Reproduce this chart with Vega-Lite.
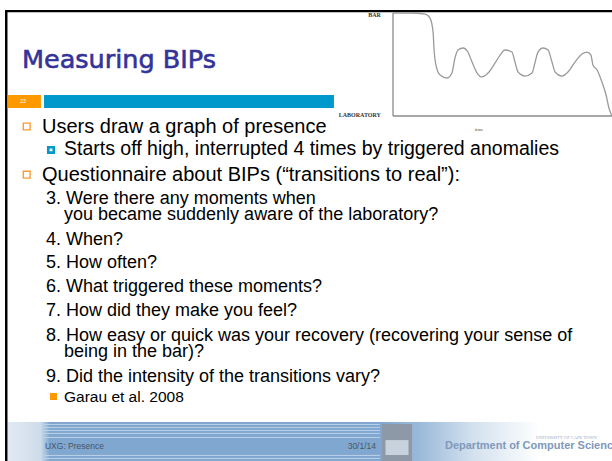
{
  "$schema": "https://vega.github.io/schema/vega-lite/v6.json",
  "width": 612,
  "height": 461,
  "padding": 0,
  "autosize": {"type": "none"},
  "background": "white",
  "config": {"view": {"stroke": null}},
  "datasets": {
    "page": [
      {"part": "footer", "x": 8.8, "x2": 720, "y": 494.3, "y2": 540},
      {"part": "frame", "x": 5.9, "x2": 720, "y": 11.7, "y2": 14.3},
      {"part": "frame", "x": 5.9, "x2": 8.8, "y": 11.7, "y2": 540},
      {"part": "tag", "x": 8.8, "x2": 48.2, "y": 111.3, "y2": 126.5},
      {"part": "bar", "x": 51.8, "x2": 392.9, "y": 111.3, "y2": 126.5},
      {"part": "crest", "x": 449.4, "x2": 484.7, "y": 496.7, "y2": 540},
      {"part": "crestlight", "x": 453.5, "x2": 480.6, "y": 515.5, "y2": 533}
    ],
    "stripes": [
      {"x": 52, "x2": 447, "y": 497.2},
      {"x": 52, "x2": 447, "y": 500.7},
      {"x": 52, "x2": 447, "y": 504.2},
      {"x": 52, "x2": 447, "y": 507.7},
      {"x": 52, "x2": 447, "y": 512.4},
      {"x": 52, "x2": 447, "y": 533.5},
      {"x": 52, "x2": 447, "y": 537}
    ],
    "labels": [
      {"part": "title", "x": 25.9, "y": 79.7, "text": "Measuring BIPs"},
      {"part": "num", "x": 27, "y": 120.5, "text": "23"},
      {"part": "foot", "x": 52.9, "y": 526, "text": "UXG: Presence"},
      {"part": "date", "x": 442.4, "y": 526, "text": "30/1/14"},
      {"part": "dept", "x": 523.5, "y": 526, "text": "Department of Computer Science"},
      {"part": "uct", "x": 630.6, "y": 514.2, "text": "UNIVERSITY OF CAPE TOWN"}
    ],
    "curve": [
      {"t": 0, "p": 100}, {"t": 7.8, "p": 100}, {"t": 14.6, "p": 99}, {"t": 16.9, "p": 95.1},
      {"t": 18.3, "p": 81.6}, {"t": 18.7, "p": 66}, {"t": 19.6, "p": 49.5}, {"t": 21.5, "p": 39.8},
      {"t": 24.7, "p": 36.9}, {"t": 26.9, "p": 41.7}, {"t": 28.3, "p": 56.3}, {"t": 29.7, "p": 64.1},
      {"t": 32, "p": 66}, {"t": 34.2, "p": 62.1}, {"t": 36.1, "p": 52.4}, {"t": 38.4, "p": 41.7},
      {"t": 40.6, "p": 37.9}, {"t": 43.4, "p": 41.7}, {"t": 46.6, "p": 51.5}, {"t": 48.9, "p": 59.2},
      {"t": 51.1, "p": 64.1}, {"t": 54.3, "p": 62.1}, {"t": 55.7, "p": 52.4}, {"t": 57.1, "p": 42.7},
      {"t": 60.3, "p": 38.8}, {"t": 63.5, "p": 41.7}, {"t": 64.8, "p": 51.5}, {"t": 66.2, "p": 62.1},
      {"t": 68.5, "p": 66}, {"t": 70.8, "p": 64.1}, {"t": 72.6, "p": 52.4}, {"t": 74, "p": 42.7},
      {"t": 77.2, "p": 38.8}, {"t": 79.9, "p": 42.7}, {"t": 83.1, "p": 52.4}, {"t": 86.3, "p": 60.2},
      {"t": 88.6, "p": 62.1}, {"t": 90.4, "p": 59.2}, {"t": 91.3, "p": 49.5}, {"t": 93.2, "p": 44.7},
      {"t": 95.4, "p": 33}, {"t": 97.3, "p": 20.4}, {"t": 98.6, "p": 7.8}, {"t": 100, "p": 0}
    ],
    "insetAxes": [
      {"t": 0, "t2": 0, "p": 0, "p2": 100},
      {"t": 0, "t2": 100, "p": 0, "p2": 0}
    ],
    "insetLabels": [
      {"kind": "side", "t": -5.5, "p": 98, "text": "BAR"},
      {"kind": "side", "t": -5.5, "p": 1, "text": "LABORATORY"},
      {"kind": "time", "t": 39.3, "p": -13, "text": "time"}
    ],
    "body": [
      {"row": 0, "level": "main", "indent": 0, "text": "Users draw a graph of presence"},
      {"row": 1, "level": "sub", "indent": 1, "text": "Starts off high, interrupted 4 times by triggered anomalies"},
      {"row": 2.15, "level": "main", "indent": 0, "text": "Questionnaire about BIPs (“transitions to real”):"},
      {"row": 3.15, "level": "q", "indent": 0.18, "text": "3. Were there any moments when"},
      {"row": 3.9, "level": "q", "indent": 1, "text": "you became suddenly aware of the laboratory?"},
      {"row": 5, "level": "q", "indent": 0.18, "text": "4. When?"},
      {"row": 6, "level": "q", "indent": 0.18, "text": "5. How often?"},
      {"row": 7.1, "level": "q", "indent": 0.18, "text": "6. What triggered these moments?"},
      {"row": 8.15, "level": "q", "indent": 0.18, "text": "7. How did they make you feel?"},
      {"row": 9.3, "level": "q", "indent": 0.18, "text": "8. How easy or quick was your recovery (recovering your sense of"},
      {"row": 10, "level": "q", "indent": 1, "text": "being in the bar)?"},
      {"row": 11.1, "level": "q", "indent": 0.18, "text": "9. Did the intensity of the transitions vary?"},
      {"row": 12, "level": "ref", "indent": 1, "text": "Garau et al. 2008"}
    ]
  },
  "layer": [
    {
      "layer": [
        {
          "data": {"name": "page"},
          "transform": [{"filter": "datum.part === 'footer'"}],
          "mark": {"type": "rect", "color": {"gradient": "linear", "x1": 0, "x2": 1, "y1": 0, "y2": 0, "stops": [
            {"offset": 0, "color": "#e2eaf3"},
            {"offset": 0.055, "color": "#cddcea"},
            {"offset": 0.07, "color": "#80a7d0"},
            {"offset": 0.615, "color": "#80a7d0"},
            {"offset": 0.68, "color": "#9ab9da"},
            {"offset": 0.77, "color": "#d3e1ee"},
            {"offset": 0.88, "color": "#ffffff"},
            {"offset": 1, "color": "#ffffff"}
          ]}},
          "encoding": {
            "x": {"field": "x", "type": "quantitative", "scale": {"domain": [0, 720], "range": [0, 612], "nice": false, "zero": false}, "axis": null},
            "x2": {"field": "x2"},
            "y": {"field": "y", "type": "quantitative", "scale": {"domain": [0, 540], "range": [0, 461], "nice": false, "zero": false}, "axis": null},
            "y2": {"field": "y2"}
          }
        },
        {
          "data": {"name": "stripes"},
          "mark": {"type": "rule", "color": "#c4d8ec", "strokeWidth": 1, "opacity": 0.85},
          "encoding": {
            "x": {"field": "x", "type": "quantitative", "scale": {"domain": [0, 720], "range": [0, 612], "nice": false, "zero": false}, "axis": null},
            "x2": {"field": "x2"},
            "y": {"field": "y", "type": "quantitative", "scale": {"domain": [0, 540], "range": [0, 461], "nice": false, "zero": false}, "axis": null}
          }
        },
        {
          "data": {"name": "page"},
          "transform": [{"filter": "datum.part === 'frame'"}],
          "mark": {"type": "rect", "color": "#000000"},
          "encoding": {
            "x": {"field": "x", "type": "quantitative", "scale": {"domain": [0, 720], "range": [0, 612], "nice": false, "zero": false}, "axis": null},
            "x2": {"field": "x2"},
            "y": {"field": "y", "type": "quantitative", "scale": {"domain": [0, 540], "range": [0, 461], "nice": false, "zero": false}, "axis": null},
            "y2": {"field": "y2"}
          }
        },
        {
          "data": {"name": "page"},
          "transform": [{"filter": "datum.part === 'tag'"}],
          "mark": {"type": "rect", "color": "#ff9900"},
          "encoding": {
            "x": {"field": "x", "type": "quantitative", "scale": {"domain": [0, 720], "range": [0, 612], "nice": false, "zero": false}, "axis": null},
            "x2": {"field": "x2"},
            "y": {"field": "y", "type": "quantitative", "scale": {"domain": [0, 540], "range": [0, 461], "nice": false, "zero": false}, "axis": null},
            "y2": {"field": "y2"}
          }
        },
        {
          "data": {"name": "page"},
          "transform": [{"filter": "datum.part === 'bar'"}],
          "mark": {"type": "rect", "color": "#0099cc"},
          "encoding": {
            "x": {"field": "x", "type": "quantitative", "scale": {"domain": [0, 720], "range": [0, 612], "nice": false, "zero": false}, "axis": null},
            "x2": {"field": "x2"},
            "y": {"field": "y", "type": "quantitative", "scale": {"domain": [0, 540], "range": [0, 461], "nice": false, "zero": false}, "axis": null},
            "y2": {"field": "y2"}
          }
        },
        {
          "data": {"name": "page"},
          "transform": [{"filter": "datum.part === 'crest'"}],
          "mark": {"type": "rect", "color": "#8d99a6"},
          "encoding": {
            "x": {"field": "x", "type": "quantitative", "scale": {"domain": [0, 720], "range": [0, 612], "nice": false, "zero": false}, "axis": null},
            "x2": {"field": "x2"},
            "y": {"field": "y", "type": "quantitative", "scale": {"domain": [0, 540], "range": [0, 461], "nice": false, "zero": false}, "axis": null},
            "y2": {"field": "y2"}
          }
        },
        {
          "data": {"name": "page"},
          "transform": [{"filter": "datum.part === 'crestlight'"}],
          "mark": {"type": "rect", "color": "#c8d2dc"},
          "encoding": {
            "x": {"field": "x", "type": "quantitative", "scale": {"domain": [0, 720], "range": [0, 612], "nice": false, "zero": false}, "axis": null},
            "x2": {"field": "x2"},
            "y": {"field": "y", "type": "quantitative", "scale": {"domain": [0, 540], "range": [0, 461], "nice": false, "zero": false}, "axis": null},
            "y2": {"field": "y2"}
          }
        },
        {
          "data": {"name": "labels"},
          "transform": [{"filter": "datum.part === 'title'"}],
          "mark": {"type": "text", "font": "DejaVu Sans", "fontSize": 25.5, "color": "#333399", "stroke": "#333399", "strokeWidth": 0.6, "align": "left", "baseline": "alphabetic"},
          "encoding": {
            "x": {"field": "x", "type": "quantitative", "scale": {"domain": [0, 720], "range": [0, 612], "nice": false, "zero": false}, "axis": null},
            "y": {"field": "y", "type": "quantitative", "scale": {"domain": [0, 540], "range": [0, 461], "nice": false, "zero": false}, "axis": null},
            "text": {"field": "text"}
          }
        },
        {
          "data": {"name": "labels"},
          "transform": [{"filter": "datum.part === 'num'"}],
          "mark": {"type": "text", "font": "Liberation Sans", "fontSize": 5, "color": "#ffffff", "align": "center", "baseline": "alphabetic"},
          "encoding": {
            "x": {"field": "x", "type": "quantitative", "scale": {"domain": [0, 720], "range": [0, 612], "nice": false, "zero": false}, "axis": null},
            "y": {"field": "y", "type": "quantitative", "scale": {"domain": [0, 540], "range": [0, 461], "nice": false, "zero": false}, "axis": null},
            "text": {"field": "text"}
          }
        },
        {
          "data": {"name": "labels"},
          "transform": [{"filter": "datum.part === 'foot'"}],
          "mark": {"type": "text", "font": "Liberation Sans", "fontSize": 8.5, "color": "#4a5664", "align": "left", "baseline": "alphabetic"},
          "encoding": {
            "x": {"field": "x", "type": "quantitative", "scale": {"domain": [0, 720], "range": [0, 612], "nice": false, "zero": false}, "axis": null},
            "y": {"field": "y", "type": "quantitative", "scale": {"domain": [0, 540], "range": [0, 461], "nice": false, "zero": false}, "axis": null},
            "text": {"field": "text"}
          }
        },
        {
          "data": {"name": "labels"},
          "transform": [{"filter": "datum.part === 'date'"}],
          "mark": {"type": "text", "font": "Liberation Sans", "fontSize": 8.5, "color": "#4a5664", "align": "right", "baseline": "alphabetic"},
          "encoding": {
            "x": {"field": "x", "type": "quantitative", "scale": {"domain": [0, 720], "range": [0, 612], "nice": false, "zero": false}, "axis": null},
            "y": {"field": "y", "type": "quantitative", "scale": {"domain": [0, 540], "range": [0, 461], "nice": false, "zero": false}, "axis": null},
            "text": {"field": "text"}
          }
        },
        {
          "data": {"name": "labels"},
          "transform": [{"filter": "datum.part === 'dept'"}],
          "mark": {"type": "text", "font": "Liberation Sans", "fontSize": 11, "fontWeight": "bold", "color": "#8099bb", "align": "left", "baseline": "alphabetic"},
          "encoding": {
            "x": {"field": "x", "type": "quantitative", "scale": {"domain": [0, 720], "range": [0, 612], "nice": false, "zero": false}, "axis": null},
            "y": {"field": "y", "type": "quantitative", "scale": {"domain": [0, 540], "range": [0, 461], "nice": false, "zero": false}, "axis": null},
            "text": {"field": "text"}
          }
        },
        {
          "data": {"name": "labels"},
          "transform": [{"filter": "datum.part === 'uct'"}],
          "mark": {"type": "text", "font": "Liberation Serif", "fontSize": 4.5, "color": "#9aaabb", "align": "left", "baseline": "alphabetic"},
          "encoding": {
            "x": {"field": "x", "type": "quantitative", "scale": {"domain": [0, 720], "range": [0, 612], "nice": false, "zero": false}, "axis": null},
            "y": {"field": "y", "type": "quantitative", "scale": {"domain": [0, 540], "range": [0, 461], "nice": false, "zero": false}, "axis": null},
            "text": {"field": "text"}
          }
        }
      ]
    },
    {
      "layer": [
        {
          "data": {"name": "insetAxes"},
          "mark": {"type": "rule", "color": "#8a8a8a", "strokeWidth": 1.3},
          "encoding": {
            "x": {"field": "t", "type": "quantitative", "scale": {"domain": [0, 100], "range": [393, 612], "nice": false, "zero": false}, "axis": null},
            "x2": {"field": "t2"},
            "y": {"field": "p", "type": "quantitative", "scale": {"domain": [0, 100], "range": [116, 13], "nice": false, "zero": false}, "axis": null},
            "y2": {"field": "p2"}
          }
        },
        {
          "data": {"name": "curve"},
          "mark": {"type": "line", "color": "#9a9a9a", "strokeWidth": 1.3, "interpolate": "monotone"},
          "encoding": {
            "x": {"field": "t", "type": "quantitative", "scale": {"domain": [0, 100], "range": [393, 612], "nice": false, "zero": false}, "axis": null},
            "y": {"field": "p", "type": "quantitative", "scale": {"domain": [0, 100], "range": [116, 13], "nice": false, "zero": false}, "axis": null}
          }
        },
        {
          "data": {"name": "insetLabels"},
          "transform": [{"filter": "datum.kind === 'side'"}],
          "mark": {"type": "text", "font": "Liberation Serif", "fontSize": 6, "fontWeight": "bold", "color": "#333333", "align": "right", "baseline": "middle"},
          "encoding": {
            "x": {"field": "t", "type": "quantitative", "scale": {"domain": [0, 100], "range": [393, 612], "nice": false, "zero": false}, "axis": null},
            "y": {"field": "p", "type": "quantitative", "scale": {"domain": [0, 100], "range": [116, 13], "nice": false, "zero": false}, "axis": null},
            "text": {"field": "text"}
          }
        },
        {
          "data": {"name": "insetLabels"},
          "transform": [{"filter": "datum.kind === 'time'"}],
          "mark": {"type": "text", "font": "Liberation Serif", "fontSize": 5, "color": "#555555", "align": "center", "baseline": "middle"},
          "encoding": {
            "x": {"field": "t", "type": "quantitative", "scale": {"domain": [0, 100], "range": [393, 612], "nice": false, "zero": false}, "axis": null},
            "y": {"field": "p", "type": "quantitative", "scale": {"domain": [0, 100], "range": [116, 13], "nice": false, "zero": false}, "axis": null},
            "text": {"field": "text"}
          }
        }
      ]
    },
    {
      "data": {"name": "body"},
      "encoding": {
        "x": {"field": "indent", "type": "quantitative", "scale": {"domain": [0, 1], "range": [42, 64], "nice": false, "zero": false}, "axis": null},
        "y": {"field": "row", "type": "quantitative", "scale": {"domain": [0, 12], "range": [133, 402], "nice": false, "zero": false}, "axis": null}
      },
      "layer": [
        {
          "transform": [{"filter": "datum.level === 'main'"}],
          "mark": {"type": "text", "font": "Liberation Sans", "fontSize": 20, "color": "#000000", "align": "left", "baseline": "alphabetic"},
          "encoding": {"text": {"field": "text"}}
        },
        {
          "transform": [{"filter": "datum.level === 'sub'"}],
          "mark": {"type": "text", "font": "Liberation Sans", "fontSize": 19.5, "color": "#000000", "align": "left", "baseline": "alphabetic"},
          "encoding": {"text": {"field": "text"}}
        },
        {
          "transform": [{"filter": "datum.level === 'q'"}],
          "mark": {"type": "text", "font": "Liberation Sans", "fontSize": 18, "color": "#000000", "align": "left", "baseline": "alphabetic"},
          "encoding": {"text": {"field": "text"}}
        },
        {
          "transform": [{"filter": "datum.level === 'ref'"}],
          "mark": {"type": "text", "font": "Liberation Sans", "fontSize": 15.5, "color": "#000000", "align": "left", "baseline": "alphabetic"},
          "encoding": {"text": {"field": "text"}}
        },
        {
          "transform": [{"filter": "datum.level === 'main'"}],
          "mark": {"type": "point", "shape": "square", "filled": false, "stroke": "#ff9933", "strokeWidth": 1.4, "size": 46, "opacity": 1, "xOffset": -15.3, "yOffset": -6.5}
        },
        {
          "transform": [{"filter": "datum.level === 'sub'"}],
          "mark": {"type": "point", "shape": "square", "filled": false, "stroke": "#0099cc", "strokeWidth": 2.6, "size": 30, "opacity": 1, "xOffset": -13, "yOffset": -5.5}
        },
        {
          "transform": [{"filter": "datum.level === 'ref'"}],
          "mark": {"type": "point", "shape": "square", "filled": true, "color": "#ff9900", "size": 49, "opacity": 1, "xOffset": -10.5, "yOffset": -5.5}
        }
      ]
    }
  ],
  "resolve": {"scale": {"x": "independent", "y": "independent"}}
}
